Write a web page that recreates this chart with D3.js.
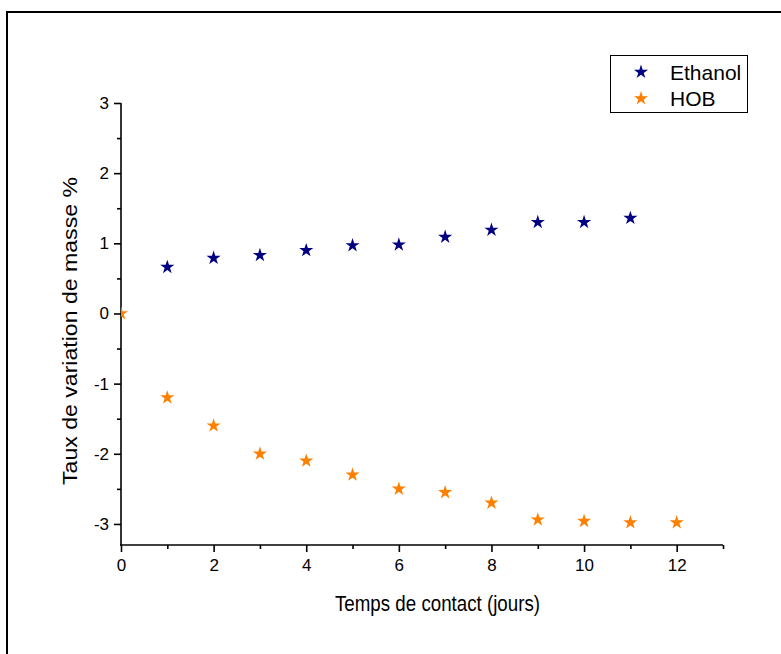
<!DOCTYPE html>
<html>
<head>
<meta charset="utf-8">
<script src="https://cdn.jsdelivr.net/npm/d3@7"></script>
<style>
  body { margin: 0; background: #fff; }
  svg { display: block; font-family: "Liberation Sans", Arial, sans-serif; }
</style>
</head>
<body>
<svg id="chart" width="781" height="654"></svg>
<script>
'use strict';

const ETHANOL_X = [1, 2, 3, 4, 5, 6, 7, 8, 9, 10, 11];
const ETHANOL_Y = [0.66, 0.79, 0.83, 0.90, 0.97, 0.98, 1.09, 1.19, 1.30, 1.30, 1.36];
const HOB_X = [0, 1, 2, 3, 4, 5, 6, 7, 8, 9, 10, 11, 12];
const HOB_Y = [0, -1.20, -1.60, -2.00, -2.10, -2.30, -2.50, -2.55, -2.70, -2.94, -2.96, -2.98, -2.98];
const X_TICKS = [0, 2, 4, 6, 8, 10, 12];
const X_MINOR = [1, 3, 5, 7, 9, 11, 13];
const Y_TICKS = [-3, -2, -1, 0, 1, 2, 3];
const Y_MINOR = [-2.5, -1.5, -0.5, 0.5, 1.5, 2.5];
const SERIES_NAMES = ["Ethanol", "HOB"];
const SERIES_COLORS = ["#000080", "#ff8000"];

const svg = d3.select("#chart");

// outer frame, open on the right and bottom like the original
svg.append("path")
    .attr("d", "M7,655 L7,12 L782,12")
    .attr("fill", "none")
    .attr("stroke", "#000")
    .attr("stroke-width", 2);

const x = d3.scaleLinear().domain([0, 13]).range([121, 723]);
const y = d3.scaleLinear().domain([-3.3, 3]).range([545, 103]);

// plain hyphen for negatives, like the original
const fmt = d => String(d);

svg.append("clipPath").attr("id", "plotClip")
    .append("rect")
    .attr("x", 121).attr("y", 60)
    .attr("width", 620).attr("height", 485);

function styleAxis(g) {
    g.selectAll(".domain").remove();
    g.selectAll("line").attr("stroke", "#000").attr("stroke-width", 1.6);
    g.selectAll("text").attr("font-size", 17).attr("fill", "#000")
        .attr("font-family", "Liberation Sans, Arial, sans-serif");
}

// x axis
svg.append("g").attr("transform", "translate(0,545)")
    .call(d3.axisBottom(x).tickValues(X_MINOR).tickSize(4).tickFormat(""))
    .call(styleAxis);
svg.append("g").attr("transform", "translate(0,545)")
    .call(d3.axisBottom(x).tickValues(X_TICKS).tickSize(7).tickPadding(7).tickFormat(fmt))
    .call(styleAxis);
svg.append("line")
    .attr("x1", 120).attr("x2", x(13)).attr("y1", 545).attr("y2", 545)
    .attr("stroke", "#000").attr("stroke-width", 1.6);

// y axis
svg.append("g").attr("transform", "translate(121,0)")
    .call(d3.axisLeft(y).tickValues(Y_MINOR).tickSize(4).tickFormat(""))
    .call(styleAxis);
svg.append("g").attr("transform", "translate(121,0)")
    .call(d3.axisLeft(y).tickValues(Y_TICKS).tickSize(7).tickPadding(5).tickFormat(fmt))
    .call(styleAxis);
svg.append("line")
    .attr("x1", 121).attr("x2", 121).attr("y1", y(3)).attr("y2", 546)
    .attr("stroke", "#000").attr("stroke-width", 1.6);

// axis titles
svg.append("text")
    .attr("x", 335).attr("y", 611)
    .attr("font-size", 22)
    .attr("textLength", 205)
    .attr("lengthAdjust", "spacingAndGlyphs")
    .text("Temps de contact (jours)");

svg.append("text")
    .attr("transform", "translate(77,485) rotate(-90)")
    .attr("font-size", 21)
    .attr("textLength", 308)
    .attr("lengthAdjust", "spacingAndGlyphs")
    .text("Taux de variation de masse %");

// points
const star = d3.symbol().type(d3.symbolStar).size(62);
const plot = svg.append("g").attr("clip-path", "url(#plotClip)");

const seriesData = [
    ETHANOL_X.map((v, i) => ({ x: v, y: ETHANOL_Y[i] })),
    HOB_X.map((v, i) => ({ x: v, y: HOB_Y[i] }))
];

seriesData.forEach((pts, s) => {
    plot.selectAll("path.s" + s)
        .data(pts)
        .enter()
        .append("path")
        .attr("class", "s" + s)
        .attr("d", star)
        .attr("transform", d => "translate(" + x(d.x) + "," + y(d.y) + ")")
        .attr("fill", SERIES_COLORS[s]);
});

// legend
const legend = svg.append("g");
legend.append("rect")
    .attr("x", 610.5).attr("y", 55.5)
    .attr("width", 137).attr("height", 57)
    .attr("fill", "#fff")
    .attr("stroke", "#000")
    .attr("stroke-width", 1);

SERIES_NAMES.forEach((name, i) => {
    const yy = 72 + i * 26.5;
    legend.append("path")
        .attr("d", star)
        .attr("transform", "translate(641," + yy + ")")
        .attr("fill", SERIES_COLORS[i]);
    legend.append("text")
        .attr("x", 670).attr("y", yy + 7.5)
        .attr("font-size", 21)
        .text(name);
});
</script>
</body>
</html>
